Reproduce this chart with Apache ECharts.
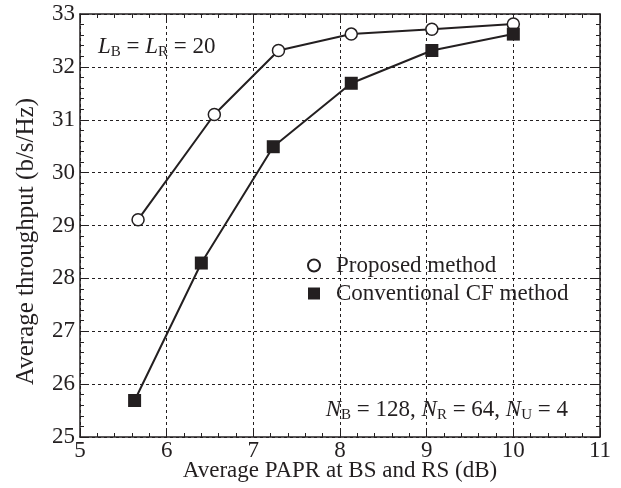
<!DOCTYPE html>
<html><head><meta charset="utf-8">
<script src="https://cdn.jsdelivr.net/npm/echarts@6/dist/echarts.min.js"></script>
<style>html,body{margin:0;padding:0;background:#fff}#c{width:621px;height:488px}</style>
</head><body><div id="c"></div>
<script>
const xTicks = [5, 6, 7, 8, 9, 10, 11];
const yTicks = [25, 26, 27, 28, 29, 30, 31, 32, 33];
const proposedX = [5.67, 6.55, 7.29, 8.13, 9.06, 10.0];
const proposedY = [29.11, 31.10, 32.31, 32.62, 32.71, 32.81];
const convX = [5.63, 6.40, 7.23, 8.13, 9.06, 10.0];
const convY = [25.69, 28.29, 30.49, 31.69, 32.31, 32.62];
const seriesNames = ['Proposed method', 'Conventional CF method'];
const xName = 'Average PAPR at BS and RS (dB)';
const yName = 'Average throughput (b/s/Hz)';

const FONT = '"Liberation Serif", "DejaVu Serif", serif';
const INK = '#231f20';
const FS = 23;

function axisBase(show) {
  return {
    type: 'value',
    axisLine: {show: true, onZero: false, lineStyle: {color: INK, width: 1.5}},
    axisTick: {show: true, inside: true, length: 7, lineStyle: {color: INK, width: 1}},
    minorTick: {show: true, splitNumber: 5, length: 4, lineStyle: {color: INK, width: 1}},
    axisLabel: {show: show, color: INK, fontFamily: FONT, fontSize: FS},
    splitLine: {show: false}
  };
}
const chart = echarts.init(document.getElementById('c'));
const xMain = Object.assign(axisBase(true), {
  min: xTicks[0], max: xTicks[xTicks.length-1], interval: 1, position: 'bottom',
  name: xName, nameLocation: 'middle', nameGap: 22, nameMoveOverlap: false,
  nameTextStyle: {color: INK, fontFamily: FONT, fontSize: FS},
  splitLine: {show: true, lineStyle: {color: INK, width: 1, type: [3, 3]}}
});
xMain.axisLabel.margin = 2;
const yMain = Object.assign(axisBase(true), {
  min: yTicks[0], max: yTicks[yTicks.length-1], interval: 1, position: 'left',
  name: yName, nameLocation: 'middle', nameGap: 41, nameMoveOverlap: false,
  nameTextStyle: {color: INK, fontFamily: FONT, fontSize: 25, padding: [0, 32, 0, 0]},
  splitLine: {show: true, lineStyle: {color: INK, width: 1, type: [3, 3]}}
});
yMain.axisLabel.margin = 5;
const xTop = Object.assign(axisBase(false), {min: xTicks[0], max: xTicks[xTicks.length-1], interval: 1, position: 'top'});
const yRight = Object.assign(axisBase(false), {min: yTicks[0], max: yTicks[yTicks.length-1], interval: 1, position: 'right'});

function zip(a, b) { return a.map((v, i) => [v, b[i]]); }

chart.setOption({
  animation: false,
  backgroundColor: '#fff',
  grid: {left: 80, right: 21, top: 14, bottom: 51, containLabel: false, outerBoundsMode: 'none'},
  xAxis: [xMain, xTop],
  yAxis: [yMain, yRight],
  legend: {
    orient: 'vertical', left: 307, top: 254, padding: 0, itemWidth: 12, itemHeight: 12, itemGap: 5,
    textStyle: {color: INK, fontFamily: FONT, fontSize: FS, padding: [0, 0, 0, 11]},
    data: [{name: seriesNames[0], icon: 'circle'}, {name: seriesNames[1], icon: 'rect'}]
  },
  series: [
    {name: seriesNames[0], type: 'line', data: zip(proposedX, proposedY),
     symbol: 'circle', symbolSize: 12,
     lineStyle: {color: INK, width: 2},
     itemStyle: {color: '#fff', borderColor: INK, borderWidth: 1.5}},
    {name: seriesNames[1], type: 'line', data: zip(convX, convY),
     symbol: 'rect', symbolSize: 13,
     lineStyle: {color: INK, width: 2},
     itemStyle: {color: INK, borderColor: INK, borderWidth: 0}}
  ],
  graphic: [
    {type: 'text', left: 98, top: 35, style: {
      text: '{i|L}{s|B}{n| = }{i|L}{s|R}{n| = 20}',
      rich: {
        i: {fontFamily: FONT, fontStyle: 'italic', fontSize: FS, fill: INK},
        n: {fontFamily: FONT, fontSize: FS, fill: INK},
        s: {fontFamily: FONT, fontSize: 15, fill: INK, padding: [11, 0, 0, 0]}
      }}},
    {type: 'text', right: 53, top: 398, style: {
      text: '{i|N}{s|B}{n| = 128, }{i|N}{s|R}{n| = 64, }{i|N}{s|U}{n| = 4}',
      rich: {
        i: {fontFamily: FONT, fontStyle: 'italic', fontSize: FS, fill: INK},
        n: {fontFamily: FONT, fontSize: FS, fill: INK},
        s: {fontFamily: FONT, fontSize: 15, fill: INK, padding: [11, 0, 0, 0]}
      }}}
  ]
});
</script></body></html>
